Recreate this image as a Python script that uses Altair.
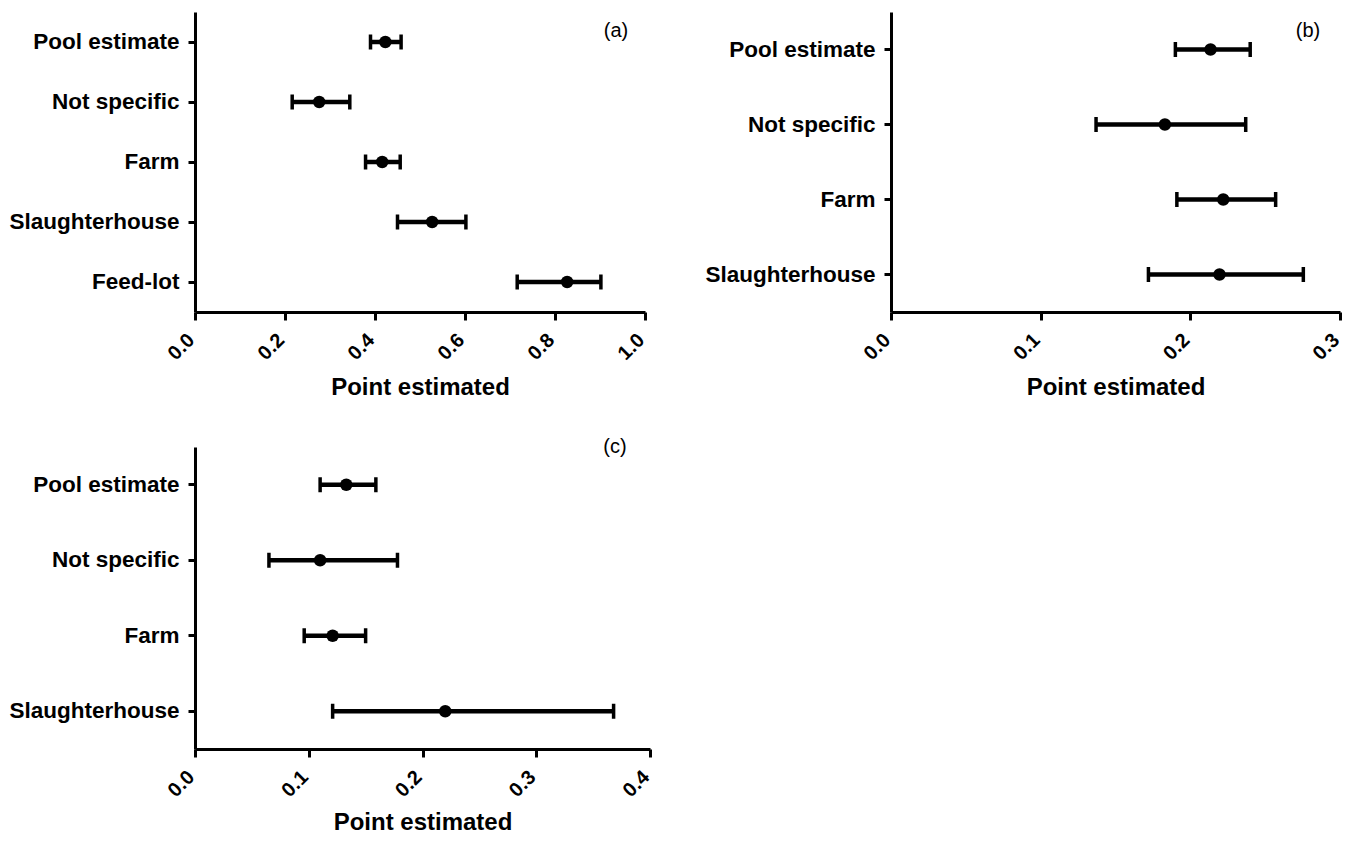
import altair as alt
import pandas as pd

# Panel (a)
cats_a = ["Pool estimate", "Not specific", "Farm", "Slaughterhouse", "Feed-lot"]
est_a = [0.423, 0.276, 0.416, 0.527, 0.827]
lo_a = [0.390, 0.216, 0.379, 0.450, 0.716]
hi_a = [0.458, 0.344, 0.456, 0.602, 0.902]
ticks_a = [0.0, 0.2, 0.4, 0.6, 0.8, 1.0]

# Panel (b)
cats_b = ["Pool estimate", "Not specific", "Farm", "Slaughterhouse"]
est_b = [0.2135, 0.183, 0.222, 0.2195]
lo_b = [0.190, 0.137, 0.191, 0.172]
hi_b = [0.240, 0.237, 0.257, 0.2755]
ticks_b = [0.0, 0.1, 0.2, 0.3]

# Panel (c)
cats_c = ["Pool estimate", "Not specific", "Farm", "Slaughterhouse"]
est_c = [0.133, 0.110, 0.121, 0.220]
lo_c = [0.110, 0.065, 0.096, 0.121]
hi_c = [0.159, 0.178, 0.150, 0.368]
ticks_c = [0.0, 0.1, 0.2, 0.3, 0.4]

FONT = "Liberation Sans"


def panel(cats, est, lo, hi, ticks, tag, tag_x, tag_y, w, h, title_pad):
    df = pd.DataFrame({"cat": cats, "est": est, "lo": lo, "hi": hi})
    xs = alt.Scale(domain=[ticks[0], ticks[-1]], nice=False, zero=True)
    ys = alt.Y("cat:N", sort=cats, title=None,
               axis=alt.Axis(labelFontSize=22.5, labelFontWeight="bold", labelFont=FONT,
                             labelColor="black", labelPadding=9, tickSize=7,
                             tickWidth=3, domainWidth=3, tickColor="black",
                             domainColor="black"))
    xaxis = alt.Axis(values=ticks, format=".1f", labelAngle=315, labelAlign="right",
                     labelBaseline="alphabetic", labelFontSize=20, labelFontWeight="bold",
                     labelFont=FONT, labelColor="black", labelPadding=21, tickSize=8,
                     tickWidth=3, domainWidth=3, tickColor="black", domainColor="black",
                     title="Point estimated", titleFontSize=24, titleFontWeight="bold",
                     titleFont=FONT, titleColor="black", titlePadding=title_pad, grid=False)
    base = alt.Chart(df)
    rule = base.mark_rule(color="black", strokeWidth=4.5).encode(
        x=alt.X("lo:Q", scale=xs, axis=xaxis), x2="hi:Q", y=ys)
    cap_lo = base.mark_tick(color="black", thickness=3.5, size=15, opacity=1).encode(
        x=alt.X("lo:Q", scale=xs), y=ys)
    cap_hi = base.mark_tick(color="black", thickness=3.5, size=15, opacity=1).encode(
        x=alt.X("hi:Q", scale=xs), y=ys)
    dots = base.mark_circle(color="black", size=155, opacity=1).encode(
        x=alt.X("est:Q", scale=xs), y=ys)
    label = alt.Chart(pd.DataFrame({"t": [tag]})).mark_text(
        font=FONT, fontSize=20, color="black", align="center", baseline="middle").encode(
        text="t:N", x=alt.value(tag_x), y=alt.value(tag_y))
    return alt.layer(rule, cap_lo, cap_hi, dots, label).properties(width=w, height=h)


pa = panel(cats_a, est_a, lo_a, hi_a, ticks_a, "(a)", 421, 19, 450, 300, 12)
pb = panel(cats_b, est_b, lo_b, hi_b, ticks_b, "(b)", 417, 19, 449, 300, 12)
pc = panel(cats_c, est_c, lo_c, hi_c, ticks_c, "(c)", 420, 0, 455, 302, 10)

chart = alt.vconcat(
    alt.hconcat(pa, pb, spacing=56),
    pc,
    spacing=37,
).properties(padding={"left": 0, "top": 4, "right": 0, "bottom": 0}).configure_view(
    stroke=None).configure_axis(grid=False)

chart.save("out.html", embed_options={"renderer": "svg", "actions": False})
